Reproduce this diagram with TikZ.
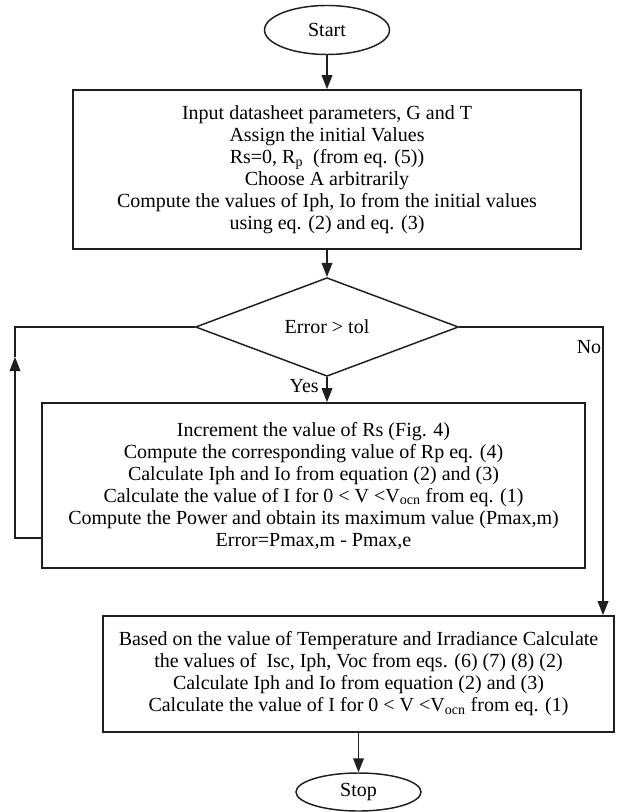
\documentclass[tikz,border=0pt]{standalone}
\usepackage{fontspec}
\setmainfont{Liberation Serif}
\usetikzlibrary{shapes.geometric,arrows.meta}
\begin{document}
\begin{tikzpicture}[x=0.75pt,y=-0.75pt,
  every node/.style={font=\fontsize{15}{16.5}\selectfont, inner sep=0pt},
  procbox/.style={draw=black!88, line width=1.3pt, rectangle, align=center},
  termbox/.style={draw=black!88, line width=1.1pt, ellipse, minimum width=93.75pt, align=center},
  decbox/.style={draw=black!88, line width=1.1pt, diamond, minimum width=197.25pt, minimum height=53.25pt},
  conn/.style={line width=1.1pt, draw=black!88},
  arr/.style={conn, -{Triangle[length=10.5pt,width=8pt]}},
  lbl/.style={font=\fontsize{15}{16.5}\selectfont}
]
\useasboundingbox (0,0) rectangle (626,812);

\node[termbox, minimum height=36.75pt] (start) at (327,30) {Start};

\node[procbox, minimum width=381pt, minimum height=119.25pt] (b1) at (327,169.5) {Input datasheet parameters, G and T\\
Assign the initial Values\\
Rs=0, R\textsubscript{p}\ \ (from eq. (5))\\
Choose A arbitrarily\\
Compute the values of Iph, Io from the initial values\\
using eq. (2) and eq. (3)};

\node[decbox] (d) at (327,327) {Error > tol};

\node[procbox, minimum width=407.25pt, minimum height=123.75pt] (b2) at (313.5,485.5) {Increment the value of Rs (Fig. 4)\\
Compute the corresponding value of Rp eq. (4)\\
Calculate Iph and Io from equation (2) and (3)\\
Calculate the value of I for 0 < V <V\textsubscript{ocn} from eq. (1)\\
Compute the Power and obtain its maximum value (Pmax,m)\\
Error=Pmax,m - Pmax,e};

\node[procbox, minimum width=383.25pt, minimum height=87pt] (b3) at (358.5,674) {Based on the value of Temperature and Irradiance Calculate\\
the values of\ \ Isc, Iph, Voc from eqs. (6) (7) (8) (2)\\
Calculate Iph and Io from equation (2) and (3)\\
Calculate the value of I for 0 < V <V\textsubscript{ocn} from eq. (1)};

\node[termbox, minimum height=28.5pt] (stop) at (358.5,792) {Stop};

\node[lbl, anchor=east] (yes) at (319,386) {Yes};
\node[lbl] (no) at (589,347) {No};

\coordinate (l1) at (15,538);
\coordinate (l2) at (15,327);
\coordinate (l3) at (15,357);
\coordinate (r1) at (603,327);

\draw[arr] (start) -- (b1);
\draw[arr] (b1) -- (d);
\draw[arr] (d) -- (b2.north -| d.south);
\draw[arr] (b2.west |- l1) -- (l1) -- (l3);
\draw[conn] (l3) -- (l2) -- (d.west);
\draw[arr] (d.east) -- (r1) -- (r1 |- b3.north);
\draw[arr] (b3.south -| stop.north) -- (stop);
\end{tikzpicture}
\end{document}
